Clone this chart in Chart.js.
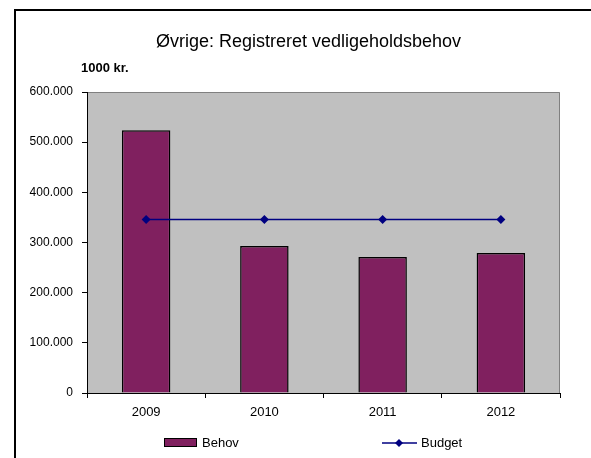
<!DOCTYPE html>
<html>
<head>
<meta charset="utf-8">
<script src="https://cdn.jsdelivr.net/npm/chart.js@4/dist/chart.umd.min.js"></script>
<style>
  html, body { margin: 0; padding: 0; background: #fff; }
  #c { display: block; }
</style>
</head>
<body>
<canvas id="c" width="591" height="458"></canvas>
<script>
const categories = ['2009', '2010', '2011', '2012'];
const behovValues = [524000, 293000, 271000, 279000];
const budgetValues = [346000, 346000, 346000, 346000];
const yTickLabels = ['0', '100.000', '200.000', '300.000', '400.000', '500.000', '600.000'];
const titleText = 'Øvrige: Registreret vedligeholdsbehov';
const unitText = '1000 kr.';
const seriesNames = ['Behov', 'Budget'];

const FONT = '"Liberation Sans", Arial, sans-serif';
const BAR_COLOR = '#80205F';
const LINE_COLOR = '#000080';

const decor = {
  id: 'decor',
  beforeDraw(chart) {
    const ctx = chart.ctx;
    const a = chart.chartArea;
    ctx.save();
    ctx.fillStyle = '#000';
    ctx.fillRect(14, 9, 2, 458);
    ctx.fillRect(14, 9, 591, 2);
    ctx.fillStyle = '#C0C0C0';
    ctx.fillRect(a.left, a.top, a.right - a.left, a.bottom - a.top);
    ctx.strokeStyle = '#808080';
    ctx.lineWidth = 1;
    ctx.beginPath();
    ctx.moveTo(a.left, a.top + 0.5);
    ctx.lineTo(a.right - 0.5, a.top + 0.5);
    ctx.lineTo(a.right - 0.5, a.bottom);
    ctx.stroke();
    ctx.restore();
  },
  afterDraw(chart) {
    const ctx = chart.ctx;
    ctx.save();
    ctx.fillStyle = '#000';
    ctx.textBaseline = 'alphabetic';
    ctx.textAlign = 'center';
    ctx.font = '18px ' + FONT;
    ctx.fillText(titleText, 308.5, 46.5);
    ctx.textAlign = 'left';
    ctx.font = 'bold 13px ' + FONT;
    ctx.fillText(unitText, 81, 71.5);
    const ly = 443;
    ctx.fillStyle = BAR_COLOR;
    ctx.fillRect(164, 438, 33, 9);
    ctx.strokeStyle = '#000';
    ctx.lineWidth = 1;
    ctx.strokeRect(164.5, 438.5, 32, 8);
    ctx.fillStyle = '#000';
    ctx.font = '13px ' + FONT;
    ctx.textBaseline = 'middle';
    ctx.fillText(seriesNames[0], 202, ly);
    ctx.strokeStyle = LINE_COLOR;
    ctx.lineWidth = 1.5;
    ctx.beginPath();
    ctx.moveTo(382, ly);
    ctx.lineTo(417, ly);
    ctx.stroke();
    ctx.fillStyle = LINE_COLOR;
    ctx.beginPath();
    ctx.moveTo(399, ly - 4);
    ctx.lineTo(403, ly);
    ctx.lineTo(399, ly + 4);
    ctx.lineTo(395, ly);
    ctx.closePath();
    ctx.fill();
    ctx.fillStyle = '#000';
    ctx.fillText(seriesNames[1], 421, ly);
    ctx.restore();
  }
};

new Chart(document.getElementById('c'), {
  type: 'bar',
  data: {
    labels: categories,
    datasets: [
      {
        type: 'line',
        label: seriesNames[1],
        data: budgetValues,
        borderColor: LINE_COLOR,
        backgroundColor: LINE_COLOR,
        borderWidth: 1.5,
        pointStyle: 'rectRot',
        pointRadius: 4.5,
        pointBorderWidth: 0,
        pointBackgroundColor: LINE_COLOR,
        tension: 0,
        order: 1
      },
      {
        type: 'bar',
        label: seriesNames[0],
        data: behovValues,
        backgroundColor: BAR_COLOR,
        borderColor: '#000',
        borderWidth: 1.5,
        barPercentage: 0.41,
        categoryPercentage: 1,
        order: 2
      }
    ]
  },
  options: {
    responsive: false,
    animation: false,
    devicePixelRatio: 1,
    layout: { padding: { left: 0, top: 92, right: 31, bottom: 0 } },
    plugins: {
      legend: { display: false },
      title: { display: false },
      tooltip: { enabled: false }
    },
    scales: {
      x: {
        offset: true,
        grid: { display: true, drawOnChartArea: false, drawTicks: true, tickLength: 5, color: '#000', offset: true },
        border: { display: true, color: '#000', width: 1 },
        ticks: { color: '#000', font: { family: FONT, size: 13 }, padding: 7, maxRotation: 0 },
        afterFit(scale) { scale.height = 65; }
      },
      y: {
        min: 0,
        max: 600000,
        grid: { display: true, drawOnChartArea: false, drawTicks: true, tickLength: 5, color: '#000' },
        border: { display: true, color: '#000', width: 1 },
        ticks: {
          stepSize: 100000,
          color: '#000',
          font: { family: FONT, size: 12 },
          padding: 9,
          callback: (v, i) => yTickLabels[i]
        },
        afterFit(scale) { scale.width = 87; }
      }
    }
  },
  plugins: [decor]
});
</script>
</body>
</html>
